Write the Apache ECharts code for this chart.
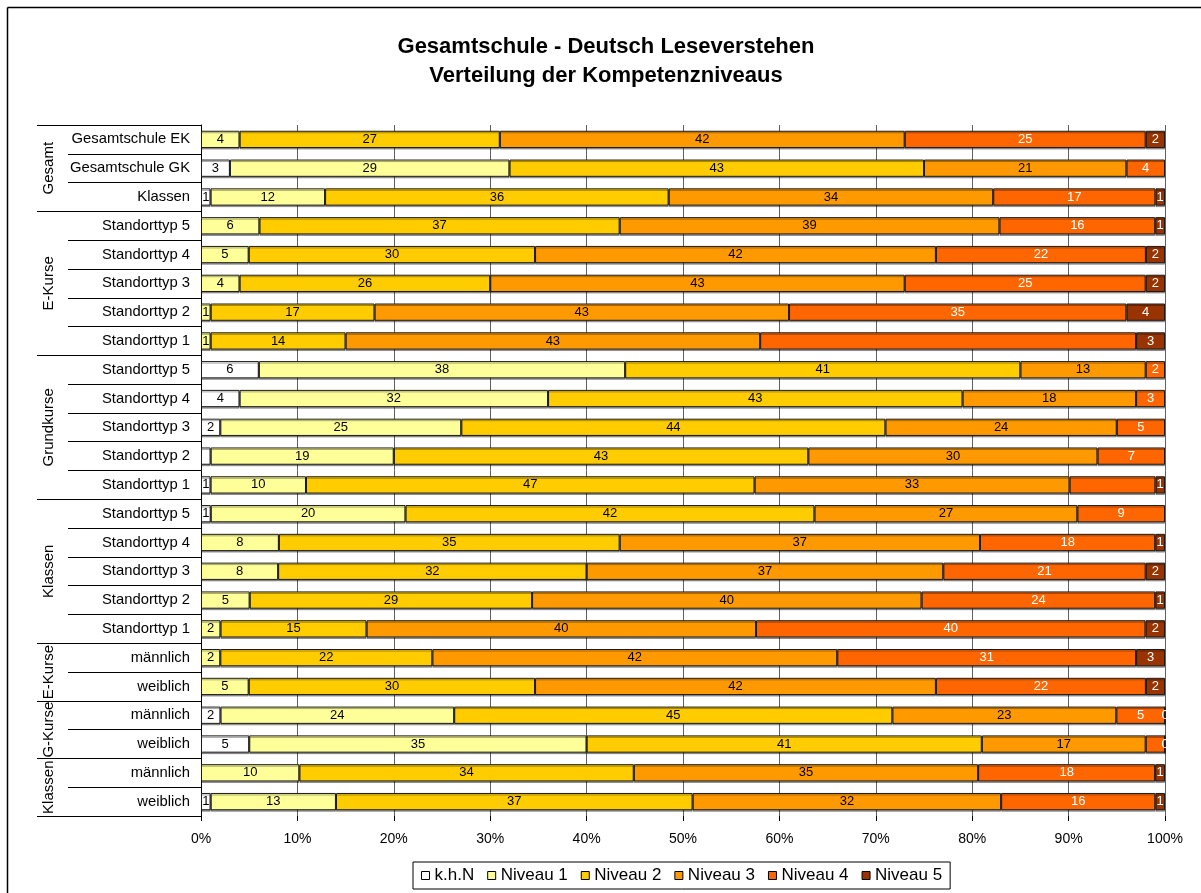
<!DOCTYPE html>
<html>
<head>
<meta charset="utf-8">
<script src="https://cdn.jsdelivr.net/npm/echarts@6/dist/echarts.min.js"></script>
<style>
  html, body { margin: 0; padding: 0; background: #fff; }
  #chart { width: 1201px; height: 893px; }
</style>
</head>
<body>
<div id="chart"></div>
<script>
// ---------- data ----------
const titleText = 'Gesamtschule - Deutsch Leseverstehen\nVerteilung der Kompetenzniveaus';
const categories = [
  'Gesamtschule EK', 'Gesamtschule GK', 'Klassen',
  'Standorttyp 5', 'Standorttyp 4', 'Standorttyp 3', 'Standorttyp 2', 'Standorttyp 1',
  'Standorttyp 5', 'Standorttyp 4', 'Standorttyp 3', 'Standorttyp 2', 'Standorttyp 1',
  'Standorttyp 5', 'Standorttyp 4', 'Standorttyp 3', 'Standorttyp 2', 'Standorttyp 1',
  'männlich', 'weiblich', 'männlich', 'weiblich', 'männlich', 'weiblich'
];
const groupNames = ['Gesamt', 'E-Kurse', 'Grundkurse', 'Klassen', 'E-Kurse', 'G-Kurse', 'Klassen'];
const groupSizes = [3, 5, 5, 5, 2, 2, 2];
const seriesNames = ['k.h.N', 'Niveau 1', 'Niveau 2', 'Niveau 3', 'Niveau 4', 'Niveau 5'];
// null = empty cell (no bar, no label)
const khN    = [null, 3, 1,  null, null, null, null, null,  6, 4, 2, 1, 1,  1, null, null, null, null,  null, null, 2, 5, null, 1];
const niveau1 = [4, 29, 12,  6, 5, 4, 1, 1,  38, 32, 25, 19, 10,  20, 8, 8, 5, 2,  2, 5, 24, 35, 10, 13];
const niveau2 = [27, 43, 36,  37, 30, 26, 17, 14,  41, 43, 44, 43, 47,  42, 35, 32, 29, 15,  22, 30, 45, 41, 34, 37];
const niveau3 = [42, 21, 34,  39, 42, 43, 43, 43,  13, 18, 24, 30, 33,  27, 37, 37, 40, 40,  42, 42, 23, 17, 35, 32];
const niveau4 = [25, 4, 17,  16, 22, 25, 35, 39,  2, 3, 5, 7, 9,  9, 18, 21, 24, 40,  31, 22, 5, 2, 18, 16];
const niveau5 = [2, null, 1,  1, 2, 2, 4, 3,  null, null, null, null, 1,  null, 1, 2, 1, 2,  3, 2, 0, 0, 1, 1];
// [row, series] pairs whose value label is not shown in the original
const hiddenLabels = [[7, 4], [11, 0], [12, 4], [21, 4]];
const xTickLabels = ['0%', '10%', '20%', '30%', '40%', '50%', '60%', '70%', '80%', '90%', '100%'];

// ---------- styles ----------
const colors = ['#FFFFFF', '#FFFF99', '#FFCC00', '#FF9900', '#FF6600', '#993300'];
const labelColors = ['#000', '#000', '#000', '#000', '#fff', '#fff'];
const FONT = '"Liberation Sans", Arial, sans-serif';

const levels = [khN, niveau1, niveau2, niveau3, niveau4, niveau5];
const rowTotals = categories.map((_, i) => levels.reduce((s, arr) => s + (arr[i] || 0), 0));
const catIds = categories.map((c, i) => i + '|' + c);
const groupStarts = [];
{ let acc = 0; groupSizes.forEach(n => { groupStarts.push(acc); acc += n; }); }

const isHidden = (r, s) => hiddenLabels.some(p => p[0] === r && p[1] === s);

const series = levels.map((arr, s) => ({
  name: seriesNames[s],
  type: 'bar',
  stack: 'total',
  barWidth: '60%',
  itemStyle: {
    color: colors[s],
    borderColor: '#1a1a1a',
    borderWidth: 1,
    shadowColor: 'rgba(0,0,0,0.35)',
    shadowOffsetY: 1.5,
    shadowBlur: 0
  },
  label: {
    show: true,
    position: 'inside',
    color: labelColors[s],
    fontSize: 13,
    fontFamily: FONT,
    formatter: p => String(arr[p.dataIndex])
  },
  emphasis: { disabled: true },
  data: arr.map((v, i) => v == null ? null : {
    value: v / rowTotals[i] * 100,
    label: { show: !isHidden(i, s) }
  })
}));

const chart = echarts.init(document.getElementById('chart'), null, { renderer: 'canvas' });

const option = {
  backgroundColor: '#fff',
  animation: false,
  title: {
    text: titleText,
    left: 606,
    textAlign: 'center',
    top: 32,
    padding: 0,
    textStyle: { fontFamily: FONT, fontSize: 22, fontWeight: 'bold', color: '#000', lineHeight: 29 }
  },
  legend: {
    data: seriesNames,
    left: 413,
    top: 862,
    orient: 'horizontal',
    icon: 'rect',
    itemWidth: 8,
    itemHeight: 8,
    itemGap: 13,
    padding: [5, 8],
    borderColor: '#000',
    borderWidth: 1,
    backgroundColor: '#fff',
    itemStyle: { borderColor: '#000', borderWidth: 1, shadowColor: 'transparent', shadowOffsetY: 0 },
    textStyle: { fontFamily: FONT, fontSize: 17, color: '#000' },
    selectedMode: false
  },
  grid: {
    left: 201, right: 36, top: 125, bottom: 77,
    containLabel: false,
    outerBoundsMode: 'none'
  },
  xAxis: {
    type: 'value',
    min: 0, max: 100, interval: 10,
    axisLine: { show: false },
    axisTick: { show: true, length: 5, lineStyle: { color: '#000' } },
    splitLine: { show: true, lineStyle: { color: '#606060', width: 1 } },
    axisLabel: {
      fontFamily: FONT, fontSize: 14, color: '#000', margin: 16,
      formatter: v => xTickLabels[Math.round(v / 10)]
    }
  },
  yAxis: [
    {
      type: 'category',
      inverse: true,
      data: catIds,
      axisLine: { show: true, lineStyle: { color: '#000', width: 1 } },
      axisTick: { show: true, length: 133, lineStyle: { color: '#000', width: 1 } },
      axisLabel: {
        fontFamily: FONT, fontSize: 14.8, color: '#000', margin: 11,
        formatter: (v, i) => categories[i]
      },
      splitLine: { show: false }
    },
    {
      type: 'category',
      inverse: true,
      position: 'left',
      data: catIds,
      axisLine: { show: false },
      axisLabel: { show: false },
      axisTick: {
        show: true, length: 164,
        interval: (idx) => groupStarts.indexOf(idx) >= 0,
        lineStyle: { color: '#000', width: 1 }
      },
      splitLine: { show: false }
    }
  ],
  series: series
};

chart.setOption(option);

// group labels (rotated), positioned from the category axis scale
const graphics = [];
groupNames.forEach((g, k) => {
  const first = groupStarts[k];
  const last = first + groupSizes[k] - 1;
  const y0 = chart.convertToPixel({ yAxisIndex: 0 }, first);
  const y1 = chart.convertToPixel({ yAxisIndex: 0 }, last);
  graphics.push({
    type: 'text',
    x: 49,
    y: (y0 + y1) / 2,
    rotation: Math.PI / 2,
    style: {
      text: g, fontFamily: FONT, fontSize: 15, fill: '#000',
      textAlign: 'center', textVerticalAlign: 'middle'
    },
    z: 10
  });
});
// outer chart frame (top and left edges visible)
graphics.push({ type: 'line', shape: { x1: 7.5, y1: 7.5, x2: 1201, y2: 7.5 }, style: { stroke: '#000', lineWidth: 1.5 }, z: 10 });
graphics.push({ type: 'line', shape: { x1: 7.5, y1: 7.5, x2: 7.5, y2: 893 }, style: { stroke: '#000', lineWidth: 1.5 }, z: 10 });
chart.setOption({ graphic: graphics });
</script>
</body>
</html>
